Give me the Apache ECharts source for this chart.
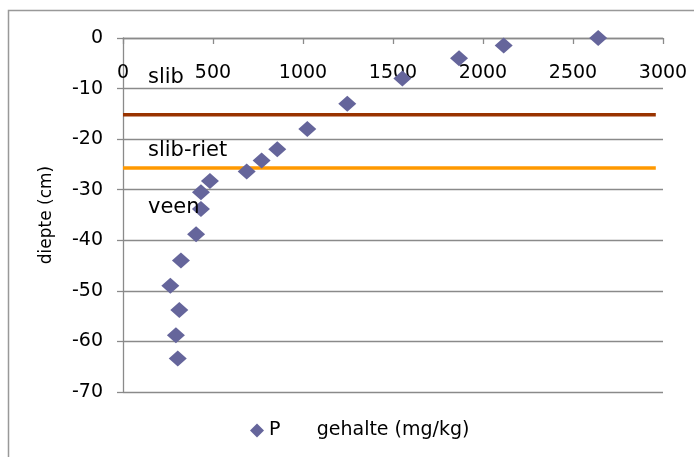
<!DOCTYPE html>
<html>
<head>
<meta charset="utf-8">
<script src="https://cdn.jsdelivr.net/npm/echarts@6/dist/echarts.min.js"></script>
<style>
  html, body { margin: 0; padding: 0; background: #fff; }
  #chart { width: 694px; height: 457px; }
</style>
</head>
<body>
<div id="chart"></div>
<script>
// P content (mg/kg) against depth (cm)
const phosphorus = [2640, 2115, 1867, 1552, 1246, 1024, 857, 770, 687, 483, 433, 433, 406, 322, 263, 313, 294, 304];
const depth = [0, -1.5, -4, -8, -13, -18, -22, -24.2, -26.4, -28.3, -30.5, -33.8, -38.8, -44, -49, -53.8, -58.8, -63.4];

// layer boundaries drawn as horizontal lines
const boundaryX = [0, 2960];
const slibBoundary = -15.2;
const rietBoundary = -25.7;

const xTicks = { min: 0, max: 3000, interval: 500 };
const yTicks = { min: -70, max: 0, interval: 10 };

const seriesName = 'P      gehalte (mg/kg)';
const layerLabels = ['slib', 'slib-riet', 'veen'];

const font = 'DejaVu Sans';
const gray = '#8a8a8a';

const chart = echarts.init(document.getElementById('chart'));
chart.setOption({
  animation: false,
  backgroundColor: '#fff',
  textStyle: { fontFamily: font },
  grid: { left: 123, top: 38, right: 31, bottom: 65, containLabel: false },
  xAxis: {
    type: 'value',
    position: 'top',
    min: xTicks.min, max: xTicks.max, interval: xTicks.interval,
    axisLine: { show: true, onZero: false, lineStyle: { color: gray, width: 1.3 } },
    axisTick: { show: true, inside: true, length: 6, lineStyle: { color: gray, width: 1.3 } },
    axisLabel: { inside: true, margin: 26, color: '#000', fontSize: 19, fontFamily: font,
                 formatter: v => String(v) },
    splitLine: { show: false }
  },
  yAxis: {
    type: 'value',
    min: yTicks.min, max: yTicks.max, interval: yTicks.interval,
    name: 'diepte (cm)',
    nameLocation: 'middle',
    nameGap: 68,
    nameRotate: 90,
    nameTextStyle: { color: '#000', fontSize: 17, fontFamily: font },
    axisLine: { show: true, onZero: false, lineStyle: { color: gray, width: 1.3 } },
    axisTick: { show: true, inside: false, length: 6, lineStyle: { color: gray, width: 1.3 } },
    axisLabel: { margin: 20, color: '#000', fontSize: 19, fontFamily: font,
                 padding: [5, 0, 0, 0],
                 formatter: v => String(v) },
    splitLine: { show: true, lineStyle: { color: gray, width: 1.3 } }
  },
  legend: {
    data: [{ name: seriesName, icon: 'diamond' }],
    left: 245,
    top: 416,
    itemWidth: 14,
    itemHeight: 14,
    itemGap: 6,
    textStyle: { color: '#000', fontSize: 19, fontFamily: font }
  },
  graphic: [
    {
      type: 'rect',
      shape: { x: 8.5, y: 10.5, width: 800, height: 600 },
      style: { fill: 'none', stroke: '#999', lineWidth: 1.5 },
      silent: true, z: -10
    },
    { type: 'text', left: 148, top: 67, style: { text: layerLabels[0], font: '21px "DejaVu Sans"', fill: '#000' }, z: 100 },
    { type: 'text', left: 148, top: 140, style: { text: layerLabels[1], font: '21px "DejaVu Sans"', fill: '#000' }, z: 100 },
    { type: 'text', left: 148, top: 197, style: { text: layerLabels[2], font: '21px "DejaVu Sans"', fill: '#000' }, z: 100 }
  ],
  series: [
    {
      name: 'slib',
      type: 'line',
      data: boundaryX.map(x => [x, slibBoundary]),
      symbol: 'none',
      lineStyle: { color: '#993300', width: 3.5 },
      z: 3
    },
    {
      name: 'slib-riet',
      type: 'line',
      data: boundaryX.map(x => [x, rietBoundary]),
      symbol: 'none',
      lineStyle: { color: '#ff9900', width: 3.5 },
      z: 3
    },
    {
      name: seriesName,
      type: 'scatter',
      data: phosphorus.map((p, i) => [p, depth[i]]),
      symbol: 'diamond',
      symbolSize: [18, 16],
      itemStyle: { color: '#65659b', opacity: 1 },
      z: 4
    }
  ]
});
</script>
</body>
</html>
